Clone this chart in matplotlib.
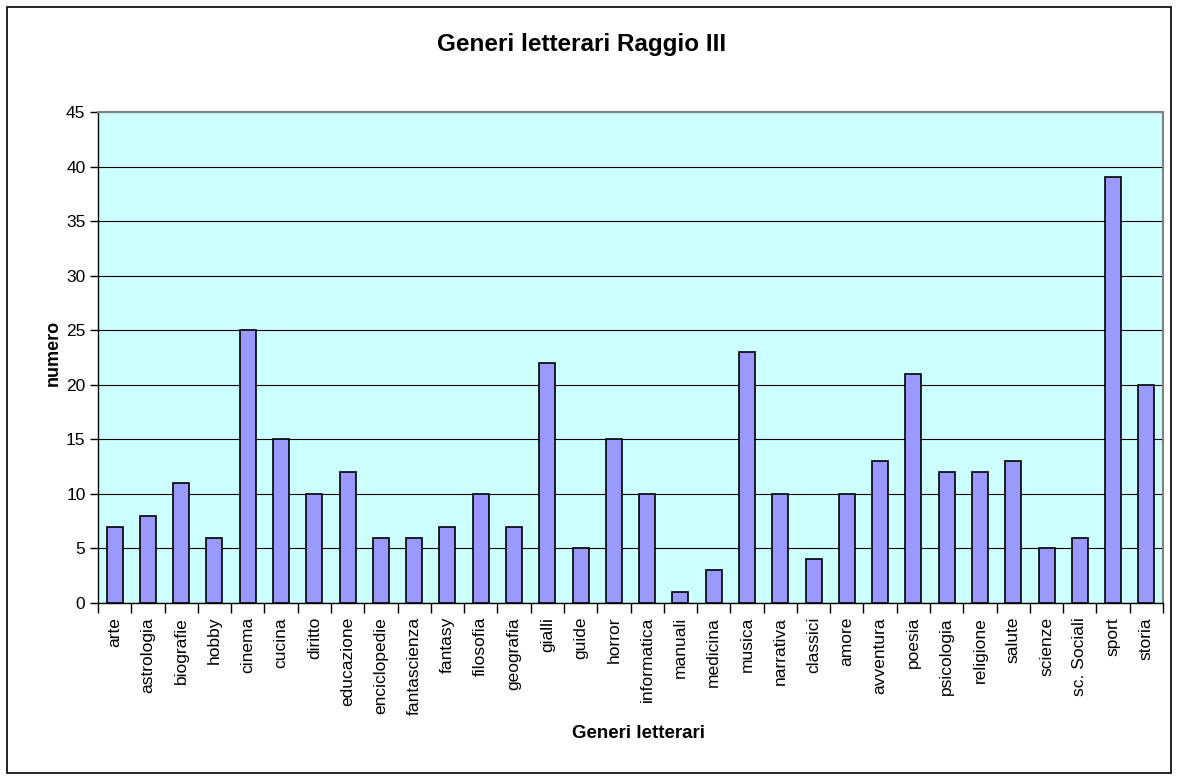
import matplotlib
matplotlib.use("Agg")
import matplotlib.pyplot as plt
from matplotlib.patches import Rectangle

categories = ["arte", "astrologia", "biografie", "hobby", "cinema", "cucina", "diritto",
              "educazione", "enciclopedie", "fantascienza", "fantasy", "filosofia",
              "geografia", "gialli", "guide", "horror", "informatica", "manuali",
              "medicina", "musica", "narrativa", "classici", "amore", "avventura",
              "poesia", "psicologia", "religione", "salute", "scienze", "sc. Sociali",
              "sport", "storia"]
values = [7, 8, 11, 6, 25, 15, 10, 12, 6, 6, 7, 10, 7, 22, 5, 15, 10, 1, 3, 23, 10, 4,
          10, 13, 21, 12, 12, 13, 5, 6, 39, 20]
y_ticks = [0, 5, 10, 15, 20, 25, 30, 35, 40, 45]

plt.rcParams['font.family'] = ['Liberation Sans', 'DejaVu Sans']

fig = plt.figure(figsize=(11.78, 7.8), dpi=100)
fig.patches.append(Rectangle((7/1178, 7/780), 1-14/1178, 1-14/780, transform=fig.transFigure,
                             fill=False, edgecolor='black', linewidth=1.2))
ax = fig.add_axes([98/1178, 1-603/780, (1163-98)/1178, (603-112)/780])
ax.set_facecolor('#ccffff')
x = list(range(len(categories)))
ax.bar(x, values, width=0.48, color='#9999ff', edgecolor='black', linewidth=1.2, zorder=3)
ax.set_xlim(-0.5, len(categories) - 0.5)
ax.set_ylim(0, 45)
ax.set_yticks(y_ticks)
ax.yaxis.grid(True, color='black', linewidth=0.8, zorder=1)
ax.set_axisbelow(True)
ax.set_xticks(x)
ax.set_xticklabels(categories, rotation=90, fontsize=12.5)
ax.tick_params(axis='x', length=0, pad=10)
ax.set_xticks([i - 0.5 for i in range(len(categories) + 1)], minor=True)
ax.tick_params(axis='x', which='minor', length=7, direction='out', width=1)
ax.tick_params(axis='y', labelsize=12.5, length=6, direction='out', width=1, pad=3)
for s in ['top', 'right']:
    ax.spines[s].set_color('#808080')
    ax.spines[s].set_linewidth(1.5)
for s in ['left', 'bottom']:
    ax.spines[s].set_color('black')
    ax.spines[s].set_linewidth(1)
fig.text(53/1178, 1-353/780, 'numero', rotation=90, ha='center', va='center',
         fontsize=13, fontweight='bold')
fig.text(639/1178, 1-733/780, 'Generi letterari', ha='center', va='center',
         fontsize=13.5, fontweight='bold')
fig.text(582/1178, 1-45/780, 'Generi letterari Raggio III', ha='center', va='center',
         fontsize=17.5, fontweight='bold')
fig.savefig('out.png', dpi=100)
